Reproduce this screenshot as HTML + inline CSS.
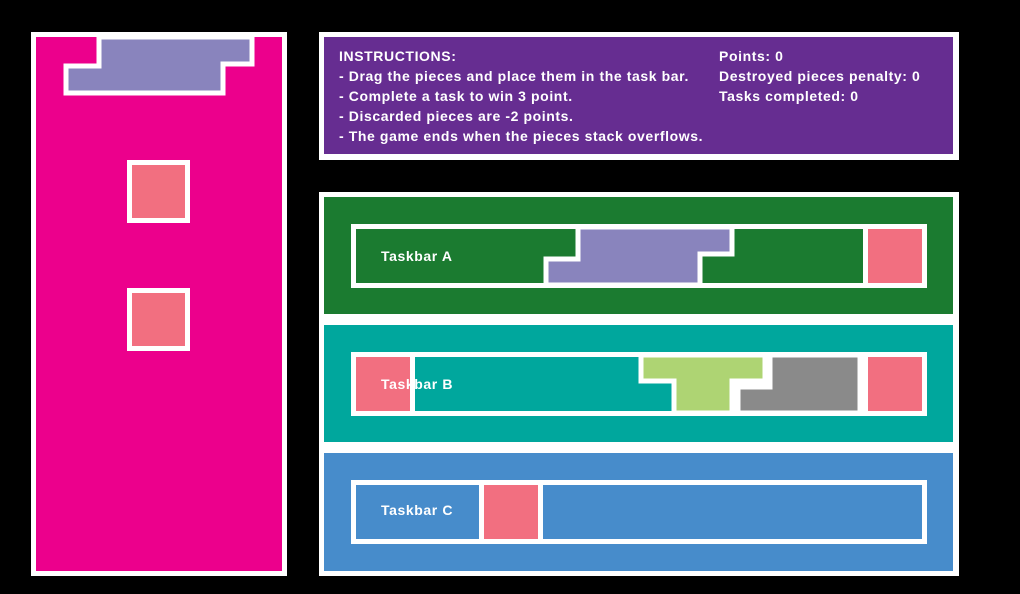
<!DOCTYPE html>
<html><head><meta charset="utf-8"><style>
body{margin:0;background:#000;width:1020px;height:594px;overflow:hidden;position:relative;font-family:"Liberation Sans",sans-serif}
.a{position:absolute;box-sizing:border-box}
.t{position:absolute;color:#fff;font-weight:bold;font-size:14px;letter-spacing:0.6px;white-space:nowrap;line-height:20px}
</style></head><body>
<div class="a" style="left:31px;top:32px;width:256px;height:544px;background:#fff"></div>
<div class="a" style="left:36px;top:37px;width:246px;height:534px;background:#ec008c"></div>
<svg class="a" style="left:0;top:0" width="1020" height="594">
<polygon points="99,37 252,37 252,64 223,64 223,93 66,93 66,66 99,66" fill="#8984bd" stroke="#fff" stroke-width="5"/>
<rect x="129.5" y="162.5" width="58" height="58" fill="#f26f80" stroke="#fff" stroke-width="5"/>
<rect x="129.5" y="290.5" width="58" height="58" fill="#f26f80" stroke="#fff" stroke-width="5"/>
</svg>
<div class="a" style="left:319px;top:32px;width:640px;height:128px;background:#fff"></div>
<div class="a" style="left:324px;top:37px;width:629px;height:117px;background:#662d91"></div>
<div class="t" style="left:339px;top:46px">INSTRUCTIONS:<br>- Drag the pieces and place them in the task bar.<br>- Complete a task to win 3 point.<br>- Discarded pieces are -2 points.<br>- The game ends when the pieces stack overflows.</div>
<div class="t" style="left:719px;top:46px">Points: 0<br>Destroyed pieces penalty: 0<br>Tasks completed: 0</div>
<div class="a" style="left:319px;top:192px;width:640px;height:384px;background:#fff"></div>
<div class="a" style="left:324px;top:197px;width:629px;height:117px;background:#1b7b30"></div>
<div class="a" style="left:324px;top:325px;width:629px;height:117px;background:#00a79d"></div>
<div class="a" style="left:324px;top:453px;width:629px;height:118px;background:#478ccb"></div>
<svg class="a" style="left:0;top:0" width="1020" height="594">
<rect x="353.5" y="226.5" width="571" height="59" fill="#1b7b30" stroke="#fff" stroke-width="5"/>
<rect x="865.5" y="226.5" width="59" height="59" fill="#f26f80" stroke="#fff" stroke-width="5"/>
<polygon points="578,227 732,227 732,254 700,254 700,285 546,285 546,259 578,259" fill="#8984bd" stroke="#fff" stroke-width="5"/>
<rect x="353.5" y="354.5" width="571" height="59" fill="#00a79d" stroke="#fff" stroke-width="5"/>
<rect x="353.5" y="354.5" width="59" height="59" fill="#f26f80" stroke="#fff" stroke-width="5"/>
<rect x="726" y="376" width="48" height="37" fill="#fff"/>
<rect x="858" y="355" width="10" height="58" fill="#fff"/>
<polygon points="641,355 765,355 765,381 732,381 732,413 674,413 674,381 641,381" fill="#aed473" stroke="#fff" stroke-width="5"/>
<polygon points="770,355 860,355 860,413 738,413 738,387 770,387" fill="#8a8a8a" stroke="#fff" stroke-width="5"/>
<rect x="865.5" y="354.5" width="59" height="59" fill="#f26f80" stroke="#fff" stroke-width="5"/>
<rect x="353.5" y="482.5" width="571" height="59" fill="#478ccb" stroke="#fff" stroke-width="5"/>
<rect x="481.5" y="482.5" width="59" height="59" fill="#f26f80" stroke="#fff" stroke-width="5"/>
</svg>
<div class="t" style="left:381px;top:246px">Taskbar A</div>
<div class="t" style="left:381px;top:374px">Taskbar B</div>
<div class="t" style="left:381px;top:500px">Taskbar C</div>
</body></html>
